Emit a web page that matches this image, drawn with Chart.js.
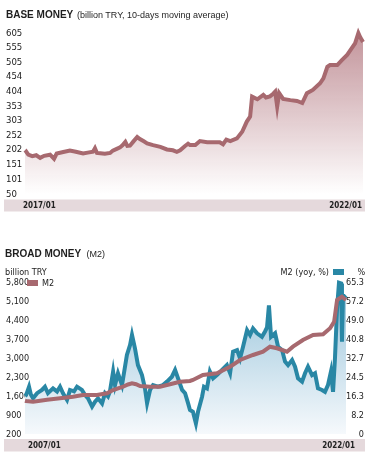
<!DOCTYPE html>
<html><head><meta charset="utf-8">
<script src="https://cdn.jsdelivr.net/npm/chart.js@4/dist/chart.umd.min.js"></script>
<style>
html,body{margin:0;padding:0;background:#fff;}
body{width:374px;height:462px;position:relative;overflow:hidden;font-family:'Liberation Sans',Arial,sans-serif;color:#1e1e1e;}
canvas{position:absolute;left:0;top:0;}
.t{position:absolute;white-space:nowrap;line-height:12px;}
.n{font-family:'Liberation Sans Narrow','DejaVu Sans Condensed','Liberation Sans',sans-serif;font-size:9px;color:#222;}
.box{position:absolute;}
</style></head><body>
<canvas id="c1" width="374" height="462"></canvas>
<canvas id="c2" width="374" height="462"></canvas>
<div class="t" style="left:6px;top:8.7px;font-weight:bold;font-size:10px">BASE MONEY</div>
<div class="t" style="left:77px;top:9px;font-size:9px">(billion TRY, 10-days moving average)</div>
<div class="t" style="left:5px;top:247.7px;font-weight:bold;font-size:10px">BROAD MONEY</div>
<div class="t" style="left:86.5px;top:248px;font-size:9px">(M2)</div>
<div class="t n" style="left:5px;top:265.5px">billion TRY</div>
<div class="box" style="left:27px;top:279.5px;width:11px;height:6px;background:#a7696f"></div>
<div class="t n" style="left:42px;top:276.5px">M2</div>
<div class="t n" style="right:45px;top:265.5px;text-align:right">M2 (yoy, %)</div>
<div class="box" style="left:333px;top:268.5px;width:11px;height:6px;background:#2987a5"></div>
<div class="t n" style="left:357.5px;top:265.5px">%</div>
<script>
// ---- BASE MONEY (billion TRY) ----
const baseDates = [2017.00,2017.02,2017.05,2017.11,2017.17,2017.23,2017.29,2017.38,2017.44,2017.48,2017.58,2017.68,2017.77,2017.88,2017.95,2018.03,2018.06,2018.09,2018.14,2018.21,2018.29,2018.33,2018.39,2018.44,2018.48,2018.52,2018.55,2018.59,2018.64,2018.70,2018.74,2018.80,2018.85,2018.94,2019.05,2019.15,2019.24,2019.30,2019.35,2019.42,2019.47,2019.50,2019.58,2019.65,2019.76,2019.85,2019.95,2020.00,2020.05,2020.11,2020.21,2020.29,2020.36,2020.41,2020.44,2020.52,2020.61,2020.65,2020.71,2020.76,2020.79,2020.82,2020.85,2020.91,2021.02,2021.12,2021.20,2021.27,2021.36,2021.47,2021.52,2021.58,2021.62,2021.73,2021.80,2021.88,2021.95,2022.00,2022.05,2022.08,2022.12];
const baseValues = [191,196,186,181,184,175,182,186,172,190,195,200,196,190,193,196,208,192,191,189,192,200,206,211,219,230,216,217,231,247,240,232,225,219,213,204,201,196,201,215,224,219,219,233,229,229,229,222,238,233,242,265,300,317,386,377,392,383,387,396,403,352,398,378,374,371,364,398,409,432,449,489,495,495,512,530,553,570,605,590,574];
const baseTickLabels = ['50','101','151','202','252','303','353','404','454','505','555','605'];
const baseAxisLabels = ['2017/01','2022/01'];

// ---- BROAD MONEY (M2, billion TRY) ----
const m2Dates = [2007.00,2007.05,2007.38,2007.71,2008.04,2008.65,2009.26,2009.73,2010.39,2010.86,2011.15,2011.62,2011.85,2012.04,2012.23,2012.42,2012.89,2013.36,2013.83,2014.30,2014.77,2014.91,2015.38,2016.04,2016.66,2017.13,2017.74,2018.21,2018.54,2018.87,2019.34,2019.62,2020.09,2020.57,2021.04,2021.37,2021.56,2021.70,2021.93,2022.12];
const m2Values = [1440,1430,1405,1440,1478,1530,1589,1652,1652,1715,1836,1958,2040,2084,2050,1984,1958,1958,2047,2143,2169,2206,2390,2453,2697,2945,3129,3251,3436,3377,3251,3436,3683,3868,3894,4116,4359,5161,5283,5161];

// ---- M2 (yoy, %) ----
const yoyDates = [2007.00,2007.05,2007.19,2007.28,2007.38,2007.57,2007.80,2007.94,2008.08,2008.32,2008.51,2008.65,2008.79,2008.98,2009.12,2009.31,2009.45,2009.68,2009.83,2009.97,2010.16,2010.30,2010.44,2010.63,2010.77,2010.91,2011.00,2011.15,2011.24,2011.38,2011.57,2011.80,2011.95,2012.04,2012.18,2012.32,2012.51,2012.65,2012.75,2012.89,2013.03,2013.26,2013.50,2013.69,2013.92,2014.07,2014.21,2014.40,2014.54,2014.68,2014.77,2014.91,2015.05,2015.15,2015.34,2015.43,2015.57,2015.71,2015.86,2016.04,2016.28,2016.51,2016.66,2016.80,2016.99,2017.13,2017.27,2017.46,2017.60,2017.74,2017.93,2018.16,2018.30,2018.40,2018.49,2018.59,2018.78,2018.92,2019.11,2019.25,2019.39,2019.58,2019.72,2019.86,2020.05,2020.19,2020.33,2020.52,2020.66,2020.80,2020.99,2021.13,2021.27,2021.41,2021.51,2021.60,2021.70,2021.79,2021.89,2021.93,2021.98,2022.12];
const yoyValues = [16.5,16.9,20.5,17.0,15.5,17.7,19.1,20.5,17.7,19.8,18.4,20.5,17.7,14.8,19.1,18.5,20.5,19.1,16.9,15.5,11.9,14.0,15.5,13.3,17.7,16.3,18.4,27.0,21.2,26.3,21.2,34.2,38.5,42.8,37.0,29.8,25.5,19.8,13.4,19.1,21.2,20.5,21.2,22.7,24.8,27.7,24.1,19.1,17.7,13.4,10.5,9.7,4.7,9.7,16.2,20.5,19.8,27.0,24.1,25.5,27.7,29.8,26.3,35.6,36.3,32.7,37.7,44.9,42.8,45.6,43.5,42.0,44.2,46.0,55.5,42.0,43.5,37.7,36.3,31.3,29.8,32.0,29.1,24.1,22.7,26.3,29.1,25.5,26.3,19.8,19.1,18.3,21.2,27.0,18.3,32.7,54.3,65.3,65.0,39.9,60.0,58.6];

const m2TickLabels = ['200','900','1,600','2,300','3,000','3,700','4,400','5,100','5,800'];
const yoyTickLabels = ['0','8.2','16.3','24.5','32.7','40.8','49.0','57.2','65.3'];
const broadAxisLabels = ['2007/01','2022/01'];

const NARROW = "'Liberation Sans Narrow','DejaVu Sans Condensed','Liberation Sans',sans-serif";
const MAUVE = '#a7696f';
const BLUE = '#2987a5';
const num = s => parseFloat(s.replace(/,/g, ''));
const pts = (xs, ys) => xs.map((x, i) => ({x, y: ys[i]}));

// mirrored tick labels so they are not clipped to the narrow axis box
function tickAxis(labels, extra, width, size, pad) {
  const vals = labels.map(num);
  return Object.assign({
    afterBuildTicks: ax => { ax.ticks = vals.map(v => ({value: v})); },
    afterFit: s => { s.width = width; },
    grid: {display: false}, border: {display: false},
    ticks: {
      autoSkip: false, mirror: true, crossAlign: 'near', padding: pad, color: '#222',
      font: {family: NARROW, size: size},
      callback: (v, i) => labels[i]
    }
  }, extra);
}

function bandPlugin(y0, y1, labels, lx, rx) {
  return {
    id: 'band',
    afterDraw(chart) {
      const c = chart.ctx;
      c.save();
      c.fillStyle = '#e5d9dc';
      c.fillRect(4, y0, 361, y1 - y0);
      c.fillStyle = '#222';
      c.font = "bold 8px " + NARROW;
      c.textBaseline = 'middle';
      c.textAlign = 'left';
      c.fillText(labels[0], lx, (y0 + y1) / 2 + 0.5);
      c.textAlign = 'right';
      c.fillText(labels[1], rx, (y0 + y1) / 2 + 0.5);
      c.restore();
    }
  };
}

function vGrad(top, bottom) {
  return ctx => {
    const {ctx: c, chartArea} = ctx.chart;
    if (!chartArea) return top;
    const g = c.createLinearGradient(0, chartArea.top, 0, chartArea.bottom);
    g.addColorStop(0, top);
    g.addColorStop(1, bottom);
    return g;
  };
}

// Chart 1 : BASE MONEY
new Chart(document.getElementById('c1'), {
  type: 'line',
  data: {datasets: [{
    data: pts(baseDates, baseValues),
    borderColor: MAUVE, borderWidth: 4, pointRadius: 0, tension: 0,
    fill: 'start', backgroundColor: vGrad('rgba(190,140,147,0.95)', 'rgba(255,255,255,1)'),
    clip: 6
  }]},
  options: {
    responsive: false, animation: false, devicePixelRatio: 1,
    layout: {padding: {left: 6, right: 11, top: 27.3, bottom: 268}},
    plugins: {legend: {display: false}, tooltip: {enabled: false}},
    scales: {
      x: {type: 'linear', min: 2017.0, max: 2022.12, display: false},
      y: tickAxis(baseTickLabels, {min: 50.45, max: 625}, 19, 9.5, -19)
    }
  },
  plugins: [bandPlugin(199.5, 211.5, baseAxisLabels, 23, 362)]
});

// Chart 2 : BROAD MONEY
new Chart(document.getElementById('c2'), {
  type: 'line',
  data: {datasets: [
    {
      label: 'M2', yAxisID: 'yl', order: 0,
      data: pts(m2Dates, m2Values),
      borderColor: MAUVE, borderWidth: 4, pointRadius: 0, tension: 0, fill: false, clip: 6
    },
    {
      label: 'M2 (yoy, %)', yAxisID: 'yr', order: 1,
      data: pts(yoyDates, yoyValues),
      borderColor: BLUE, borderWidth: 4, pointRadius: 0, tension: 0,
      fill: 'start', backgroundColor: vGrad('rgba(150,195,218,1)', 'rgba(246,249,252,1)'),
      clip: 6
    }
  ]},
  options: {
    responsive: false, animation: false, devicePixelRatio: 1,
    layout: {padding: {left: 6, right: 10, top: 282.7, bottom: 462 - 434.3}},
    plugins: {legend: {display: false}, tooltip: {enabled: false}},
    scales: {
      x: {type: 'linear', min: 2007.0, max: 2022.12, display: false},
      yl: tickAxis(m2TickLabels, {min: 200, max: 5800, position: 'left'}, 19, 9, -19),
      yr: tickAxis(yoyTickLabels, {min: 0, max: 65.3, position: 'right'}, 18, 9, 18)
    }
  },
  plugins: [bandPlugin(439, 451.5, broadAxisLabels, 28, 355)]
});
</script>
</body></html>
